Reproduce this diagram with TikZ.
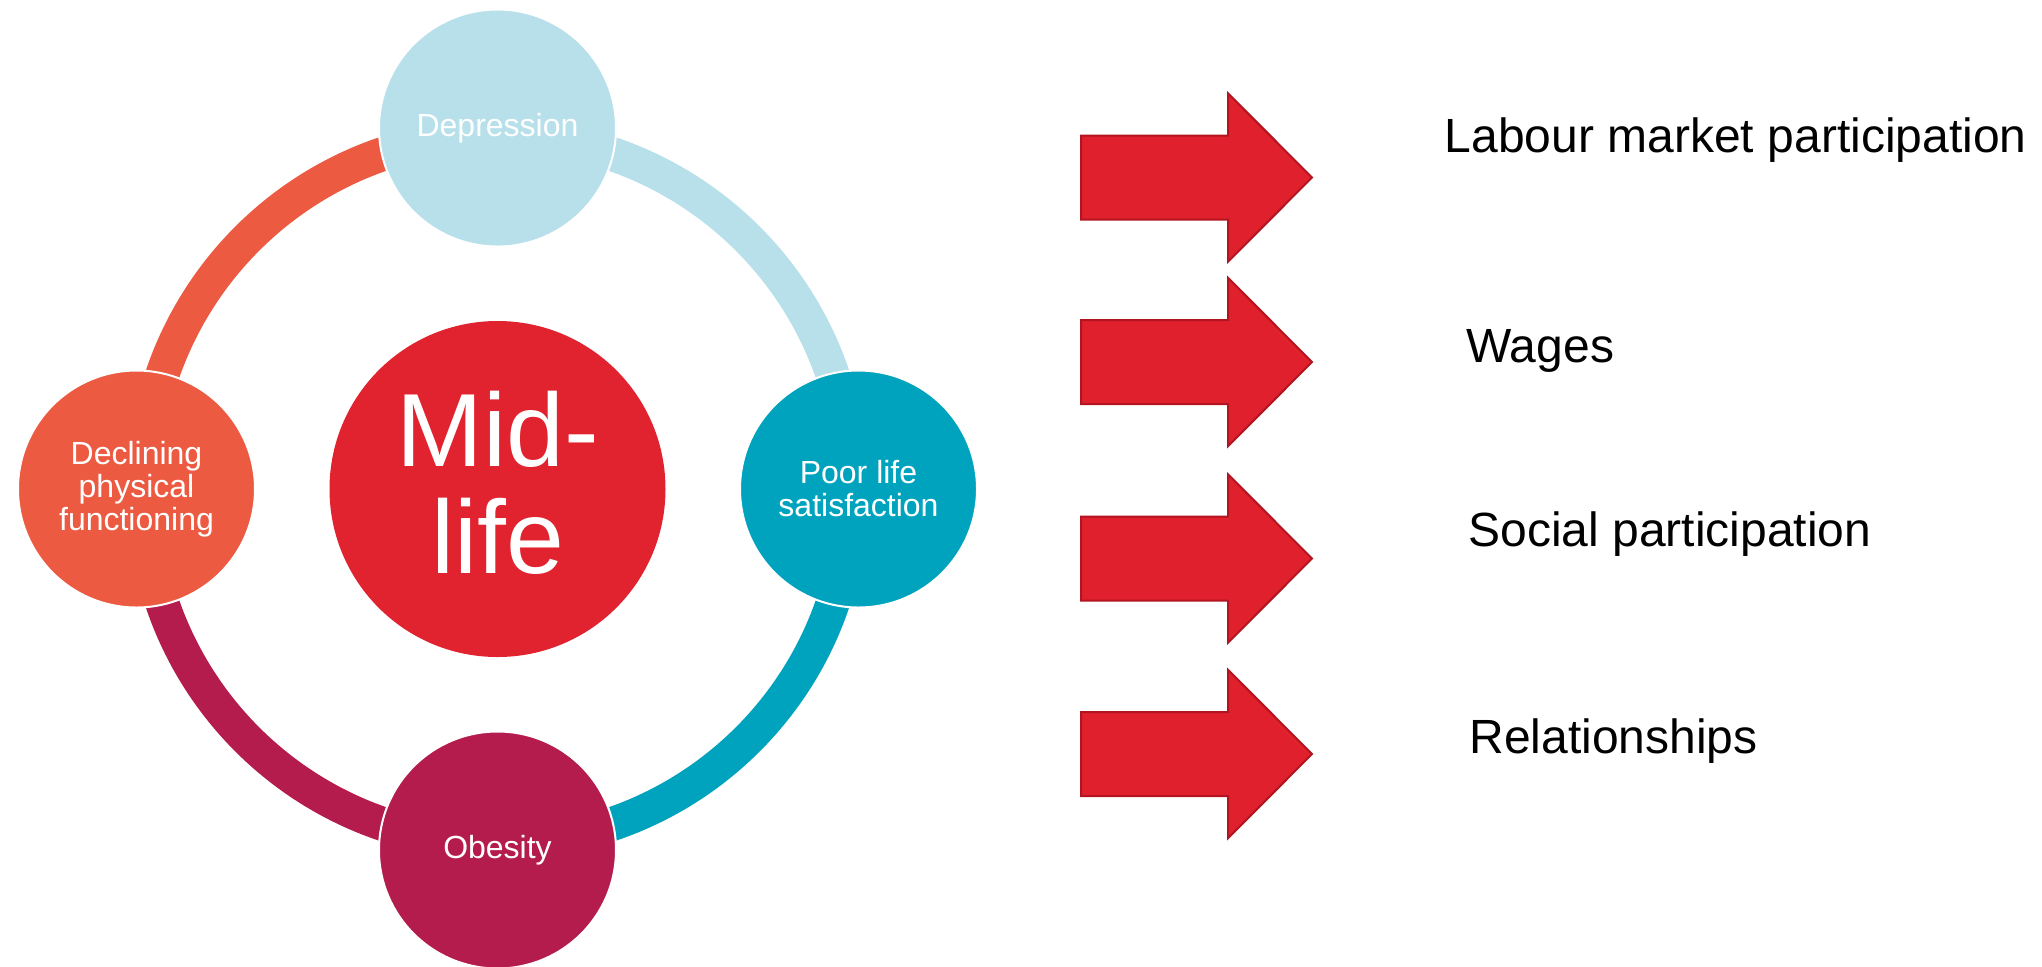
\documentclass[tikz,border=0pt]{standalone}
\usepackage{fontspec}
\setmainfont{Liberation Sans}
\usetikzlibrary{calc}

\definecolor{midred}{HTML}{E1222F}
\definecolor{declcol}{HTML}{EC5A41}
\definecolor{depcol}{HTML}{B8E0EA}
\definecolor{poorcol}{HTML}{00A3BE}
\definecolor{obecol}{HTML}{B41C4E}
\definecolor{arrowred}{HTML}{E1202E}
\definecolor{arrowedge}{HTML}{B3141F}

\begin{document}
\begin{tikzpicture}[x=0.5pt,y=-0.5pt,
  ringseg/.style={line width=17pt, line cap=butt},
  satellite/.style={circle, draw=white, line width=1pt, minimum size=118.5pt,
    inner sep=0pt, text=white, align=center,
    font=\fontsize{16pt}{16.5pt}\selectfont},
  hub/.style={circle, fill=midred, minimum size=168pt, inner sep=0pt},
  hublabel/.style={text=white, align=center, inner sep=0pt,
    font=\fontsize{52pt}{53.3pt}\selectfont},
  outcome/.style={anchor=base west, inner sep=0pt, text=black,
    font=\fontsize{24pt}{24pt}\selectfont},
  bigarrow/.style={fill=arrowred, draw=arrowedge, line width=1pt, line join=miter}]

\fill[white] (0,0) rectangle (2042,966);
\useasboundingbox (0,0) rectangle (2042,966);

% ring of four coloured quarter arcs
\coordinate (ring) at (497.5,489);
\coordinate (r-left)   at ([shift={(180:354)}]ring);
\coordinate (r-top)    at ([shift={(270:354)}]ring);
\coordinate (r-right)  at ([shift={(0:354)}]ring);
\coordinate (r-bottom) at ([shift={(90:354)}]ring);
\draw[ringseg, declcol] (r-left)   arc[start angle=180, end angle=270, radius=354];
\draw[ringseg, depcol]  (r-top)    arc[start angle=270, end angle=360, radius=354];
\draw[ringseg, poorcol] (r-right)  arc[start angle=0,   end angle=90,  radius=354];
\draw[ringseg, obecol]  (r-bottom) arc[start angle=90,  end angle=180, radius=354];

% satellite circles
\node[satellite, fill=depcol]  (dep)  at (497.5,128) {Depression};
\node[satellite, fill=poorcol] (poor) at (858.5,489) {Poor life\\satisfaction};
\node[satellite, fill=obecol]  (obe)  at (497.5,850) {Obesity};
\node[satellite, fill=declcol] (decl) at (136.5,489) {Declining\\physical\\functioning};

% central circle
\node[hub] (mid) at (497.5,489) {};
\node[hublabel] (midlabel) at (498,483) {Mid-\\life};

% arrows towards the outcomes
\coordinate (a1) at (1081,177.5);
\coordinate (a2) at (1081,362);
\coordinate (a3) at (1081,558.5);
\coordinate (a4) at (1081,754);
\foreach \a in {a1,a2,a3,a4}{
  \draw[bigarrow] (\a) ++(0,-42) -- ++(147,0) -- ++(0,-42.2) -- ++(84,84.2)
    -- ++(-84,84.2) -- ++(0,-42.2) -- ++(-147,0) -- cycle;
}

% outcome labels
\node[outcome] (labour) at (1444.5,152.7) {Labour market participation};
\node[outcome] (wages)  at (1466,362.3) {Wages};
\node[outcome] (social) at (1468,546.7) {Social participation};
\node[outcome] (rel)    at (1469,753.3) {Relationships};
\end{tikzpicture}
\end{document}
